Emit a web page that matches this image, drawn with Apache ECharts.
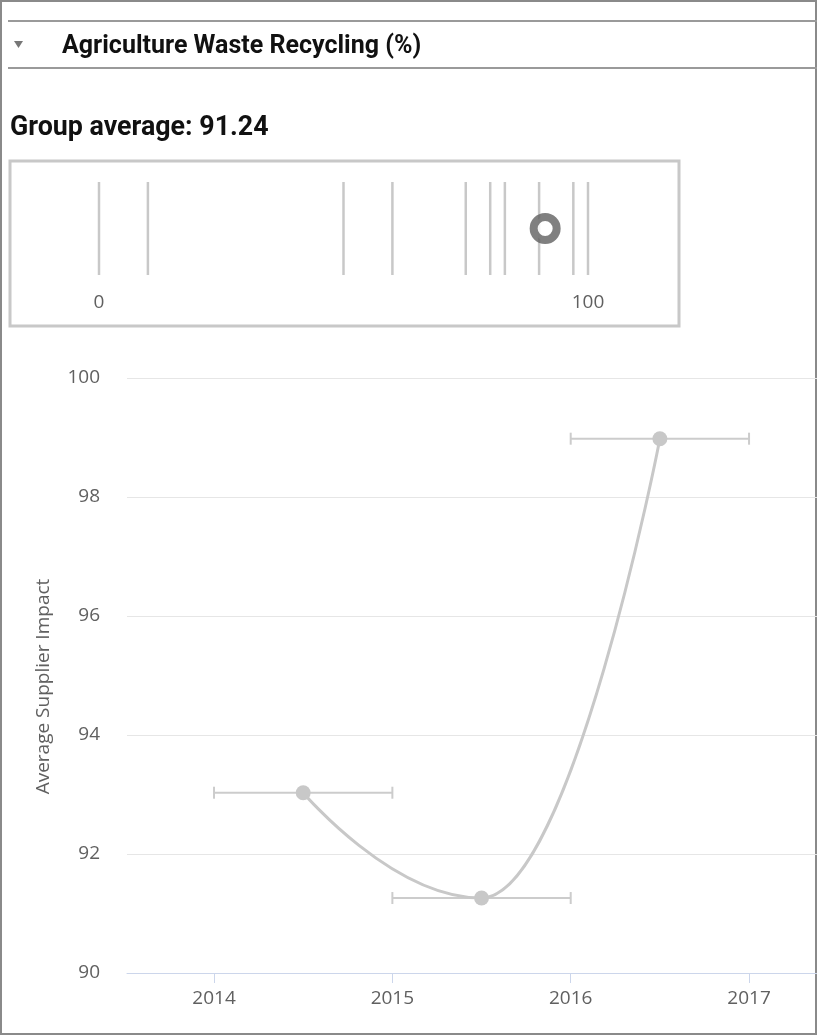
<!DOCTYPE html>
<html>
<head>
<meta charset="utf-8">
<script src="https://cdn.jsdelivr.net/npm/echarts@6/dist/echarts.min.js"></script>
<style>
html,body{margin:0;padding:0;background:#fff;}
#chart{width:817px;height:1035px;}
</style>
</head>
<body>
<div id="chart"></div>
<script>
// ---- data ----
const panelTitle = 'Agriculture Waste Recycling (%)';
const groupAverage = 91.24;
const stripValues = [0, 10, 50, 60, 75, 80, 83, 90, 97, 100];
const stripTicks = [0, 100];
const periodStart = [2014, 2015, 2016];
const periodEnd = [2015, 2016, 2017];
const impactValues = [93.03, 91.26, 98.98];
const xTicks = [2014, 2015, 2016, 2017];
const yName = 'Average Supplier Impact';

const LABEL_FONT = '"Open Sans", sans-serif';
const lineData = periodStart.map((s, i) => [(s + periodEnd[i]) / 2, impactValues[i]]);
const errData = periodStart.map((s, i) => [s, periodEnd[i], impactValues[i]]);

const chart = echarts.init(document.getElementById('chart'), null, {renderer: 'canvas'});
const option = {
  animation: false,
  backgroundColor: '#fff',
  graphic: [
    {type: 'rect', shape: {x: 1, y: 1, width: 815, height: 1033}, style: {fill: 'none', stroke: '#8a8a8a', lineWidth: 2}, silent: true},
    {type: 'line', shape: {x1: 8, y1: 21, x2: 817, y2: 21}, style: {stroke: '#9a9a9a', lineWidth: 2}},
    {type: 'line', shape: {x1: 8, y1: 68, x2: 817, y2: 68}, style: {stroke: '#9a9a9a', lineWidth: 2}},
    {type: 'polygon', shape: {points: [[14, 41], [23, 41], [18.5, 48]]}, style: {fill: '#777'}},
    {type: 'text', x: 62, y: 47, style: {text: panelTitle, font: 'bold 25px Roboto', fill: '#111', textVerticalAlign: 'middle'}},
    {type: 'text', x: 10, y: 128, style: {text: 'Group average: ' + groupAverage.toFixed(2), font: 'bold 26.8px Roboto', fill: '#111', textVerticalAlign: 'middle'}},
    {type: 'rect', shape: {x: 10, y: 161, width: 669, height: 165}, style: {fill: 'none', stroke: '#c8c8c8', lineWidth: 3}}
  ],
  grid: [
    {left: 127, top: 378, width: 690, height: 595},
    {left: 99, top: 182, width: 489, height: 93}
  ],
  xAxis: [
    {
      type: 'value', gridIndex: 0, min: 2013.512, max: 2017.381,
      axisLine: {show: true, lineStyle: {color: '#ccd6eb', width: 1}},
      axisTick: {show: true, customValues: xTicks, length: 10, lineStyle: {color: '#ccd6eb'}},
      axisLabel: {customValues: xTicks, formatter: v => String(v), color: '#606060', fontSize: 19, fontFamily: LABEL_FONT, margin: 16},
      splitLine: {show: false}
    },
    {
      type: 'value', gridIndex: 1, min: 0, max: 100,
      axisLine: {show: false}, axisTick: {show: false}, splitLine: {show: false},
      axisLabel: {customValues: stripTicks, color: '#606060', fontSize: 19, fontFamily: LABEL_FONT, margin: 18}
    }
  ],
  yAxis: [
    {
      type: 'value', gridIndex: 0, min: 90, max: 100, interval: 2,
      name: yName, nameLocation: 'middle', nameGap: 74, nameRotate: 90,
      nameTextStyle: {color: '#606060', fontSize: 19, fontFamily: LABEL_FONT, padding: [0, 22, 0, 0]},
      axisLine: {show: false}, axisTick: {show: false},
      axisLabel: {color: '#606060', fontSize: 19, fontFamily: LABEL_FONT, margin: 27, showMinLabel: true},
      splitLine: {show: true, lineStyle: {color: '#e6e6e6', width: 1}}
    },
    {type: 'value', gridIndex: 1, min: 0, max: 1, show: false}
  ],
  series: [
    {
      type: 'custom', xAxisIndex: 1, yAxisIndex: 1, data: stripValues.map(v => [v]),
      renderItem: function (params, api) {
        const x = api.coord([api.value(0), 0])[0];
        const y0 = api.coord([0, 0])[1];
        const y1 = api.coord([0, 1])[1];
        return {type: 'line', shape: {x1: x, y1: y0, x2: x, y2: y1}, style: {stroke: '#c8c8c8', lineWidth: 2.5}};
      }
    },
    {
      type: 'scatter', xAxisIndex: 1, yAxisIndex: 1, data: [[groupAverage, 0.5]],
      symbol: 'circle', symbolSize: 23, z: 5,
      itemStyle: {color: '#fff', borderColor: '#606060', borderWidth: 8}
    },
    {
      type: 'custom', xAxisIndex: 0, yAxisIndex: 0, data: errData, z: 1,
      renderItem: function (params, api) {
        const a = api.coord([api.value(0), api.value(2)]);
        const b = api.coord([api.value(1), api.value(2)]);
        const st = {stroke: '#cccccc', lineWidth: 2};
        return {type: 'group', children: [
          {type: 'line', shape: {x1: a[0], y1: a[1], x2: b[0], y2: b[1]}, style: st},
          {type: 'line', shape: {x1: a[0], y1: a[1] - 6, x2: a[0], y2: a[1] + 6}, style: st},
          {type: 'line', shape: {x1: b[0], y1: b[1] - 6, x2: b[0], y2: b[1] + 6}, style: st}
        ]};
      }
    },
    {
      type: 'line', xAxisIndex: 0, yAxisIndex: 0, data: lineData, z: 3,
      smooth: true, smoothMonotone: 'x',
      lineStyle: {color: '#c8c8c8', width: 3},
      symbol: 'circle', symbolSize: 15, showSymbol: true,
      itemStyle: {color: '#c8c8c8'}
    }
  ]
};
chart.setOption(option);
</script>
</body>
</html>
